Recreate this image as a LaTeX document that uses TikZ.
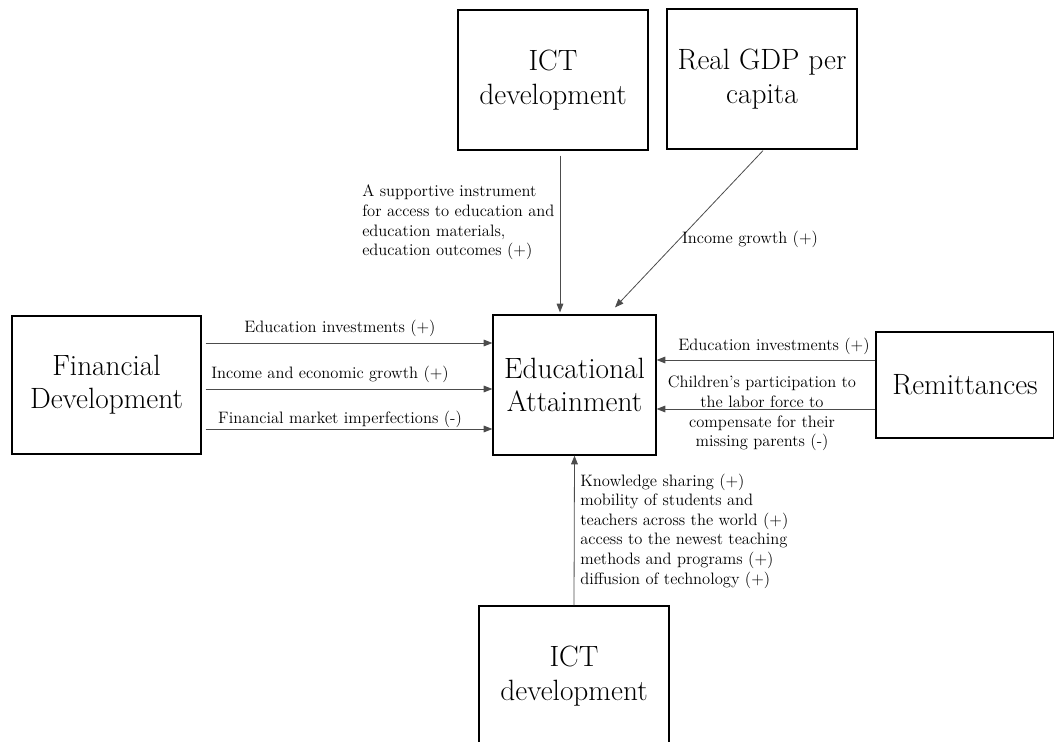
\documentclass[tikz,border=0pt]{standalone}
\usetikzlibrary{arrows.meta,calc}
\begin{document}
\begin{tikzpicture}[x=0.75pt,y=-0.75pt,
  box/.style={draw=black,line width=0.9pt,inner sep=0pt,align=center,font=\fontsize{22}{25}\selectfont},
  lab/.style={inner sep=0pt,font=\fontsize{12.4}{14.7}\selectfont},
  arr/.style={draw=black!70,line width=0.6pt,-{Triangle[length=6.5pt,width=5pt]}}]
\useasboundingbox (0,0) rectangle (1054,742);
\clip (0,0) rectangle (1054,742);
\node[box,minimum width=142.5pt,minimum height=105pt] (ict1) at (553,80) {ICT\\development};
\node[box,minimum width=142.5pt,minimum height=105pt] (gdp) at (762,79) {Real GDP per\\capita};
\node[box,minimum width=122.25pt,minimum height=105pt] (edu) at (574.5,385) {Educational\\Attainment};
\node[box,minimum width=141.75pt,minimum height=103.5pt] (fin) at (106.5,385) {Financial\\Development};
\node[box,minimum width=133.5pt,minimum height=79.5pt] (rem) at (965,385) {Remittances};
\node[box,minimum width=142.5pt,minimum height=105pt] (ict2) at (574,676) {ICT\\development};

\draw[arr] ($(ict1.south)+(7,5)$) -- ($(edu.north)+(-14.5,-2)$);
\draw[arr] ($(gdp.south)+(1,1)$) -- ($(edu.north)+(40.5,-7)$);
\draw[arr] ($(fin.east)+(4,-42)$) -- ($(edu.west)+(0,-42)$);
\draw[arr] ($(fin.east)+(4,4)$) -- ($(edu.west)+(0,4)$);
\draw[arr] ($(fin.east)+(4,44)$) -- ($(edu.west)+(0,44)$);
\draw[arr] ($(rem.west)+(0,-25)$) -- ($(edu.east)+(0,-25)$);
\draw[arr] ($(rem.west)+(0,24)$) -- ($(edu.east)+(0,24)$);
\draw[arr] (ict2.north) -- (edu.south);

\node[lab,align=left,anchor=west] (l1) at (362,222.5) {A supportive instrument\\for access to education and\\education materials,\\education outcomes (+)};
\node[lab,anchor=base] (l2) at (750,243) {Income growth (+)};
\node[lab,anchor=base] (l3) at (340,332) {Education investments (+)};
\node[lab,anchor=base] (l4) at (330,378) {Income and economic growth (+)};
\node[lab,anchor=base] (l5) at (340,423) {Financial market imperfections (-)};
\node[lab,anchor=base] (l6) at (774,350) {Education investments (+)};
\node[lab,align=center] (l7) at (762,413.5) {Children's participation to\\the labor force to\\compensate for their\\missing parents (-)};
\node[lab,align=left,anchor=west] (l8) at (580,531) {Knowledge sharing (+)\\mobility of students and\\teachers across the world (+)\\access to the newest teaching\\methods and programs (+)\\diffusion of technology (+)};
\end{tikzpicture}
\end{document}
